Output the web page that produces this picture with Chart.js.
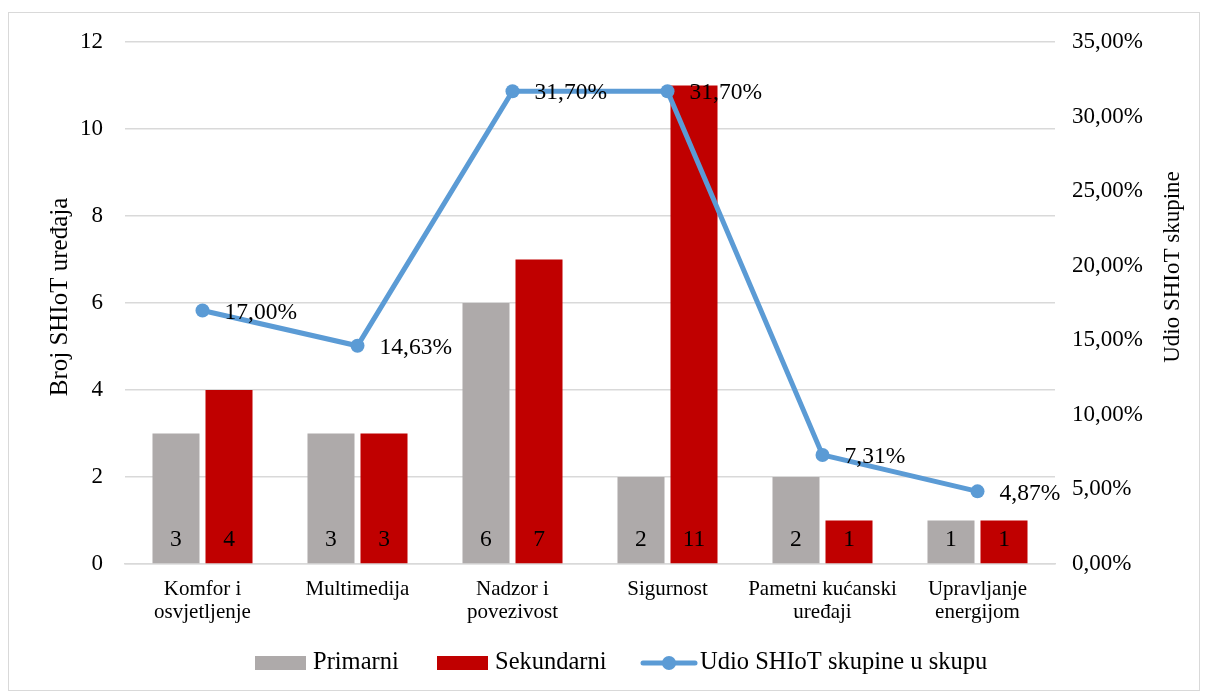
<!DOCTYPE html>
<html><head><meta charset="utf-8">
<script src="https://cdn.jsdelivr.net/npm/chart.js@4/dist/chart.umd.min.js"></script>
<style>html,body{margin:0;padding:0;background:#fff}#wrap{width:1208px;height:693px;position:relative}</style>
</head><body><div id="wrap"><canvas id="c" width="1208" height="693"></canvas></div>
<script>
const categories = [["Komfor i","osvjetljenje"],"Multimedija",["Nadzor i","povezivost"],"Sigurnost",["Pametni kućanski","uređaji"],["Upravljanje","energijom"]];
const primarni = [3,3,6,2,2,1];
const sekundarni = [4,3,7,11,1,1];
const udio = [17.00,14.63,31.70,31.70,7.31,4.87];
const seriesNames = ["Primarni","Sekundarni","Udio SHIoT skupine u skupu"];
const leftTitle = "Broj SHIoT uređaja";
const rightTitle = "Udio SHIoT skupine";

const FONT = "'Liberation Serif','Times New Roman',serif";
const fmtPct = v => v.toFixed(2).replace('.', ',') + '%';

const decor = {
  id:'decor',
  beforeDraw(chart){
    const ctx = chart.ctx;
    ctx.save();
    ctx.fillStyle='#fff'; ctx.fillRect(0,0,chart.width,chart.height);
    ctx.strokeStyle='#d9d9d9'; ctx.lineWidth=1;
    ctx.strokeRect(8.5,12.5,1191,678);
    ctx.restore();
  },
  afterDatasetsDraw(chart){
    const ctx = chart.ctx;
    ctx.save();
    ctx.font = '23.5px ' + FONT;
    ctx.fillStyle = '#000';
    // bar labels
    [0,1].forEach(di=>{
      const meta = chart.getDatasetMeta(di);
      meta.data.forEach((bar,i)=>{
        ctx.textAlign='center'; ctx.textBaseline='middle';
        ctx.fillText(String(chart.data.datasets[di].data[i]), bar.x, bar.base - 23);
      });
    });
    // line labels
    const lm = chart.getDatasetMeta(2);
    lm.data.forEach((pt,i)=>{
      ctx.textAlign='left'; ctx.textBaseline='middle';
      ctx.fillText(fmtPct(chart.data.datasets[2].data[i]), pt.x + 22, pt.y + 2);
    });
    // axis titles
    ctx.textAlign='center'; ctx.textBaseline='middle';
    ctx.font = '25px ' + FONT;
    ctx.save(); ctx.translate(60, 297); ctx.rotate(-Math.PI/2); ctx.fillText(leftTitle,0,0); ctx.restore();
    ctx.font = '23px ' + FONT;
    ctx.save(); ctx.translate(1173, 267); ctx.rotate(-Math.PI/2); ctx.fillText(rightTitle,0,0); ctx.restore();
    // legend
    const ly = 663;
    ctx.font = '24.5px ' + FONT;
    ctx.textAlign='left'; ctx.textBaseline='middle';
    const ds = chart.data.datasets;
    ctx.fillStyle = ds[0].backgroundColor; ctx.fillRect(255, ly-7, 51, 14);
    ctx.fillStyle='#000'; ctx.fillText(ds[0].label, 313, ly);
    ctx.fillStyle = ds[1].backgroundColor; ctx.fillRect(437, ly-7, 51, 14);
    ctx.fillStyle='#000'; ctx.fillText(ds[1].label, 495, ly);
    ctx.strokeStyle = ds[2].borderColor; ctx.lineWidth=5; ctx.lineCap='round';
    ctx.beginPath(); ctx.moveTo(643, ly); ctx.lineTo(695, ly); ctx.stroke();
    ctx.fillStyle = ds[2].borderColor; ctx.beginPath(); ctx.arc(669, ly, 7, 0, Math.PI*2); ctx.fill();
    ctx.fillStyle='#000'; ctx.fillText(ds[2].label, 700, ly);
    ctx.restore();
  }
};

new Chart(document.getElementById('c'), {
  data: {
    labels: categories,
    datasets: [
      {type:'bar', label: seriesNames[0], data: primarni, backgroundColor:'#AEAAAA', yAxisID:'y', order:1, categoryPercentage:0.684, barPercentage:0.887},
      {type:'bar', label: seriesNames[1], data: sekundarni, backgroundColor:'#C00000', yAxisID:'y', order:1, categoryPercentage:0.684, barPercentage:0.887},
      {type:'line', label: seriesNames[2], data: udio, borderColor:'#5B9BD5', backgroundColor:'#5B9BD5', borderWidth:5, pointRadius:7, pointBackgroundColor:'#5B9BD5', pointBorderWidth:0, yAxisID:'y1', order:0, tension:0}
    ]
  },
  options: {
    responsive:false, animation:false, devicePixelRatio:1,
    layout:{padding:{top:42,left:0,right:0,bottom:0}},
    plugins:{legend:{display:false}, tooltip:{enabled:false}},
    scales:{
      x:{
        grid:{display:false, drawTicks:false},
        border:{display:true, color:'#d9d9d9', width:1.5},
        ticks:{color:'#000', font:{family:FONT, size:21, lineHeight:1.1}, padding:14, maxRotation:0, autoSkip:false},
        afterFit(s){ s.height = 129; }
      },
      y:{
        position:'left', min:0, max:12,
        ticks:{stepSize:2, color:'#000', font:{family:FONT, size:23}, padding:22},
        grid:{color:'#d9d9d9', lineWidth:1.5, drawTicks:false},
        border:{display:false},
        afterFit(s){ s.width = 125; }
      },
      y1:{
        position:'right', min:0, max:35,
        ticks:{stepSize:5, color:'#000', font:{family:FONT, size:23}, padding:17, callback:v=>fmtPct(v)},
        grid:{display:false, drawTicks:false},
        border:{display:false},
        afterFit(s){ s.width = 153; }
      }
    }
  },
  plugins:[decor]
});
</script></body></html>
